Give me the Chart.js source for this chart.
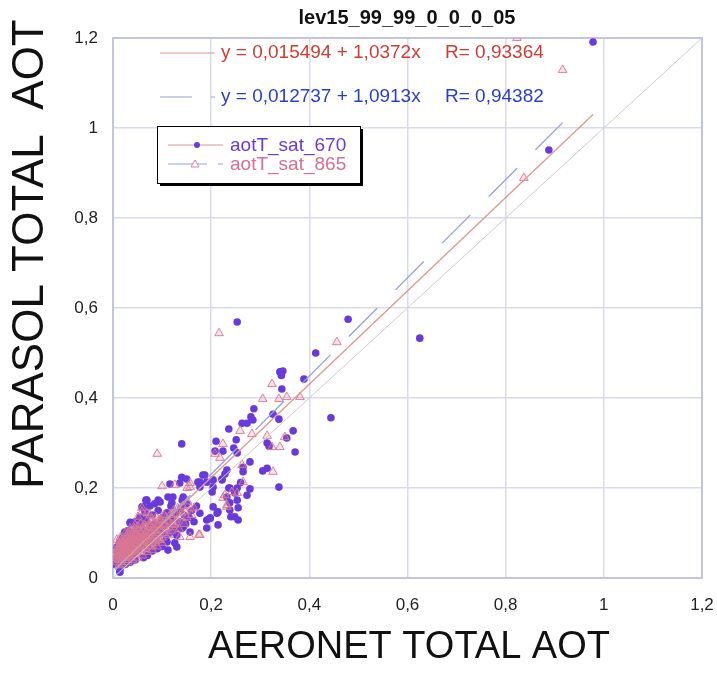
<!DOCTYPE html>
<html>
<head>
<meta charset="utf-8">
<script src="https://cdn.jsdelivr.net/npm/chart.js@4.4.1/dist/chart.umd.min.js"></script>
<style>
  body { margin: 0; background: #fff; }
  #wrap { width: 717px; height: 691px; position: relative; }
</style>
</head>
<body>
<div id="wrap"><canvas id="aotChart"></canvas></div>
<script>
// tick labels (comma decimals like the original)
const xTickLabels = ['0', '0,2', '0,4', '0,6', '0,8', '1', '1,2'];
const yTickLabels = ['0', '0,2', '0,4', '0,6', '0,8', '1', '1,2'];

const chartTitle = 'lev15_99_99_0_0_0_05';
const xTitle = 'AERONET TOTAL AOT';
const yTitle = 'PARASOL TOTAL  AOT';
const seriesNames = ['aotT_sat_670', 'aotT_sat_865'];
const fitLabels = ['y = 0,015494 + 1,0372x', 'y = 0,012737 + 1,0913x'];
const fitR = ['R= 0,93364', 'R= 0,94382'];

// regression lines and 1:1 line, endpoints
const fit670 = [[0.005, 0.021], [0.978, 1.03]];
const fit865 = [[0.005, 0.018], [0.916, 1.012]];
const oneToOne = [[0, 0], [1.2, 1.2]];

// aotT_sat_670 (purple dots)
const sat670 = [
  [0.978,1.191],[0.888,0.951],[0.625,0.533],[0.253,0.569],[0.479,0.575],[0.413,0.5],
  [0.34,0.458],[0.346,0.46],[0.343,0.45],[0.389,0.442],[0.344,0.42],[0.444,0.356],
  [0.287,0.376],[0.326,0.364],[0.338,0.353],[0.281,0.358],[0.285,0.351],[0.263,0.344],[0.273,0.344],[0.236,0.331],
  [0.367,0.327],[0.21,0.304],[0.251,0.307],[0.224,0.282],[0.208,0.282],[0.246,0.289],[0.253,0.278],
  [0.314,0.3],[0.318,0.293],[0.371,0.28],[0.14,0.298],[0.354,0.311],
  [0.279,0.258],[0.265,0.246],[0.265,0.236],[0.305,0.238],[0.314,0.244],
  [0.232,0.24],[0.228,0.231],[0.222,0.22],[0.222,0.218],[0.26,0.212],[0.279,0.198],[0.338,0.202],
  [0.187,0.229],[0.177,0.213],[0.204,0.218],[0.204,0.202],[0.202,0.191],[0.238,0.2],[0.248,0.189],
  [0.14,0.224],[0.15,0.22],[0.136,0.211],[0.116,0.209],[0.183,0.229],[0.173,0.213],[0.191,0.213],[0.177,0.202],
  [0.236,0.2],[0.253,0.2],[0.232,0.18],[0.273,0.184],[0.253,0.173],[0.238,0.167],[0.255,0.156],[0.248,0.136],[0.24,0.136],
  [0.198,0.133],[0.212,0.144],[0.214,0.118],
  [0.069,0.173],[0.096,0.169],[0.061,0.158],[0.122,0.18],[0.141,0.173],
  [0.059,0.158],[0.067,0.173],[0.092,0.173],[0.112,0.18],[0.12,0.167],[0.143,0.18],
  [0.204,0.158],[0.214,0.147],[0.198,0.133],[0.238,0.151],[0.255,0.129],[0.191,0.111],
  [0.106,0.129],[0.122,0.107],[0.143,0.113],[0.157,0.102],[0.177,0.144],[0.191,0.129],
  [0.035,0.124],[0.024,0.102],[0.014,0.08],[0.018,0.067],[0.008,0.069],[0.13,0.069],[0.126,0.078],[0.112,0.062],
  [0.035,0.122],[0.029,0.1],[0.018,0.073],[0.014,0.018],[0.014,0.013],
  [0.005,0.03],[0.008,0.045],[0.01,0.055],[0.012,0.038],[0.015,0.06],[0.018,0.05],[0.02,0.075],[0.022,0.04],
  [0.025,0.065],[0.028,0.085],[0.03,0.05],[0.032,0.07],[0.035,0.09],[0.038,0.06],[0.04,0.1],[0.042,0.078],
  [0.045,0.055],[0.048,0.11],[0.05,0.085],[0.052,0.065],[0.055,0.095],[0.058,0.12],[0.06,0.075],[0.062,0.105],
  [0.065,0.088],[0.068,0.13],[0.07,0.068],[0.072,0.098],[0.075,0.115],[0.078,0.08],[0.08,0.14],[0.082,0.1],
  [0.085,0.12],[0.088,0.09],[0.09,0.11],[0.092,0.15],[0.095,0.075],[0.098,0.125],[0.1,0.1],[0.102,0.135],
  [0.105,0.115],[0.108,0.085],[0.11,0.145],[0.112,0.12],[0.115,0.1],[0.118,0.16],[0.12,0.13],[0.125,0.11],
  [0.128,0.145],[0.13,0.095],[0.135,0.125],[0.138,0.155],[0.14,0.11],[0.145,0.14],[0.148,0.12],[0.15,0.165],
  [0.155,0.135],[0.16,0.15],[0.165,0.125],[0.17,0.16],[0.062,0.045],[0.07,0.05],[0.08,0.06],[0.09,0.065],
  [0.1,0.07],[0.11,0.08],[0.035,0.035],[0.045,0.04],[0.025,0.03],[0.015,0.025],[0.02,0.09],[0.012,0.075],
  [0.03,0.105],[0.045,0.125],[0.055,0.135],[0.065,0.148],[0.075,0.16],[0.085,0.165]
];

// aotT_sat_865 (pink triangles)
const sat865 = [
  [0.823,1.2],[0.916,1.129],[0.837,0.889],[0.216,0.544],[0.456,0.524],
  [0.324,0.431],[0.305,0.398],[0.338,0.398],[0.354,0.402],[0.381,0.402],
  [0.259,0.327],[0.283,0.32],[0.314,0.316],[0.35,0.313],[0.224,0.298],[0.208,0.276],[0.218,0.267],
  [0.34,0.291],[0.324,0.291],[0.326,0.236],[0.228,0.184],[0.242,0.191],[0.265,0.213],[0.263,0.251],
  [0.09,0.276],[0.1,0.204],[0.157,0.202],[0.232,0.162],[0.224,0.178],[0.175,0.096],
  [0.059,0.156],[0.075,0.14],[0.096,0.129],[0.122,0.113],[0.136,0.091],
  [0.157,0.211],[0.151,0.2],[0.126,0.207],[0.177,0.096],[0.157,0.091],
  [0.232,0.158],[0.253,0.189],[0.051,0.136],[0.069,0.144],[0.059,0.147],
  [0.005,0.04],[0.006,0.055],[0.008,0.035],[0.009,0.065],[0.01,0.048],[0.011,0.07],[0.012,0.058],[0.013,0.042],
  [0.014,0.062],[0.015,0.075],[0.016,0.05],[0.017,0.068],[0.018,0.04],[0.019,0.058],[0.02,0.08],[0.021,0.065],
  [0.022,0.052],[0.023,0.072],[0.024,0.045],[0.025,0.085],[0.026,0.06],[0.027,0.075],[0.028,0.05],[0.029,0.068],
  [0.03,0.09],[0.031,0.058],[0.032,0.08],[0.033,0.065],[0.034,0.048],[0.035,0.072],[0.036,0.095],[0.037,0.06],
  [0.038,0.082],[0.039,0.07],[0.04,0.055],[0.041,0.088],[0.042,0.065],[0.043,0.1],[0.044,0.075],[0.045,0.062],
  [0.046,0.085],[0.047,0.07],[0.048,0.095],[0.049,0.058],[0.05,0.078],[0.052,0.105],[0.053,0.068],[0.054,0.09],
  [0.055,0.075],[0.057,0.1],[0.058,0.062],[0.06,0.085],[0.061,0.11],[0.062,0.072],[0.064,0.095],[0.065,0.08],
  [0.067,0.115],[0.068,0.068],[0.07,0.09],[0.072,0.105],[0.073,0.078],[0.075,0.12],[0.077,0.088],[0.078,0.1],
  [0.08,0.072],[0.082,0.11],[0.084,0.092],[0.085,0.125],[0.087,0.082],[0.089,0.105],[0.09,0.095],[0.092,0.118],
  [0.094,0.085],[0.096,0.108],[0.098,0.13],[0.1,0.09],[0.103,0.12],[0.105,0.1],[0.108,0.135],[0.11,0.11],
  [0.113,0.095],[0.115,0.125],[0.118,0.105],[0.12,0.14],[0.125,0.118],[0.13,0.13],[0.135,0.108],[0.14,0.145],
  [0.145,0.12],[0.15,0.135],[0.16,0.14],[0.165,0.155],[0.03,0.035],[0.04,0.04],[0.05,0.045],[0.06,0.05],
  [0.07,0.058],[0.08,0.062],[0.09,0.07],[0.1,0.078],[0.012,0.028],[0.02,0.03],[0.008,0.085],[0.015,0.09],
  [0.025,0.1],[0.035,0.11],[0.045,0.118],
  [0.004,0.05],[0.006,0.045],[0.007,0.06],[0.009,0.052],[0.01,0.075],[0.011,0.04],[0.013,0.068],[0.014,0.05],
  [0.016,0.082],[0.017,0.058],[0.019,0.072],[0.02,0.045],[0.022,0.088],[0.023,0.062],[0.024,0.078],[0.026,0.052],
  [0.027,0.092],[0.028,0.07],[0.03,0.062],[0.031,0.1],[0.033,0.085],[0.034,0.072],[0.036,0.058],[0.037,0.105],
  [0.038,0.092],[0.04,0.078],[0.041,0.065],[0.043,0.088],[0.044,0.11],[0.046,0.072],[0.047,0.1],[0.049,0.085],
  [0.05,0.068],[0.051,0.115],[0.053,0.092],[0.055,0.082],[0.056,0.12],[0.058,0.098],[0.059,0.075],[0.061,0.092],
  [0.063,0.118],[0.065,0.1],[0.066,0.085],[0.069,0.125],[0.071,0.095],[0.073,0.112],[0.076,0.1],[0.079,0.13],
  [0.081,0.085],[0.083,0.118],[0.086,0.105],[0.088,0.135],[0.091,0.1],[0.093,0.128],[0.097,0.115],[0.101,0.105],
  [0.104,0.14],[0.107,0.118],[0.111,0.128],[0.116,0.14],[0.12,0.12],[0.124,0.15],[0.128,0.125],[0.132,0.155],
  [0.137,0.135],[0.142,0.16],[0.147,0.148],[0.152,0.17],[0.158,0.155],[0.016,0.035],[0.026,0.04],[0.036,0.045],
  [0.046,0.052],[0.056,0.058],[0.066,0.065],[0.076,0.07],[0.086,0.078],[0.096,0.085]
];

const toXY = arr => arr.map(p => ({x: p[0], y: p[1]}));

const FONT = '"Liberation Sans", Arial, sans-serif';
const purple = 'rgb(104,58,222)';
const pinkLine = 'rgba(214,120,148,0.9)';
const redFit = 'rgb(222,150,145)';
const blueFit = 'rgb(150,160,222)';

// titles, equations and the boxed legend drawn on top of the plot
const decor = {
  id: 'decor',
  beforeDatasetsDraw(chart) {
    const {ctx, chartArea: a} = chart;
    ctx.save();
    ctx.strokeStyle = 'rgb(195,195,232)';
    ctx.lineWidth = 2;
    ctx.strokeRect(a.left, a.top, a.right - a.left, a.bottom - a.top);
    ctx.restore();
  },
  afterDraw(chart) {
    const ctx = chart.ctx;
    ctx.save();
    ctx.textBaseline = 'middle';

    // main title
    ctx.fillStyle = '#111';
    ctx.textAlign = 'center';
    ctx.font = 'bold 20px ' + FONT;
    ctx.fillText(chartTitle, 407, 18);

    // axis titles
    ctx.font = '38px ' + FONT;
    ctx.fillText(xTitle, 409, 648);
    ctx.save();
    ctx.translate(31, 254);
    ctx.rotate(-Math.PI / 2);
    ctx.font = '44px ' + FONT;
    ctx.fillText(yTitle, 0, 0);
    ctx.restore();

    // regression equations
    ctx.textAlign = 'left';
    ctx.font = '19px ' + FONT;
    ctx.lineWidth = 1.2;
    ctx.strokeStyle = redFit;
    ctx.beginPath(); ctx.moveTo(160, 53); ctx.lineTo(215, 53); ctx.stroke();
    ctx.fillStyle = 'rgb(208,60,48)';
    ctx.fillText(fitLabels[0], 221, 53);
    ctx.fillText(fitR[0], 445, 53);

    ctx.strokeStyle = blueFit;
    ctx.setLineDash([32, 19]);
    ctx.beginPath(); ctx.moveTo(160, 97); ctx.lineTo(215, 97); ctx.stroke();
    ctx.setLineDash([]);
    ctx.fillStyle = 'rgb(40,62,205)';
    ctx.fillText(fitLabels[1], 221, 97);
    ctx.fillText(fitR[1], 445, 97);

    // legend box with shadow
    ctx.fillStyle = '#000';
    ctx.fillRect(160, 129, 203, 57);
    ctx.fillStyle = '#fff';
    ctx.fillRect(157, 126, 203, 57);
    ctx.strokeStyle = '#000';
    ctx.lineWidth = 1;
    ctx.strokeRect(157.5, 126.5, 203, 57);

    ctx.lineWidth = 1;
    ctx.strokeStyle = redFit;
    ctx.beginPath(); ctx.moveTo(168, 145); ctx.lineTo(223, 145); ctx.stroke();
    ctx.fillStyle = purple;
    ctx.beginPath(); ctx.arc(197, 145, 3, 0, Math.PI * 2); ctx.fill();
    ctx.fillText(seriesNames[0], 230, 146);

    ctx.strokeStyle = blueFit;
    ctx.beginPath(); ctx.moveTo(168, 164); ctx.lineTo(207, 164); ctx.stroke();
    ctx.beginPath(); ctx.moveTo(218, 164); ctx.lineTo(223, 164); ctx.stroke();
    ctx.strokeStyle = pinkLine;
    ctx.fillStyle = '#fff';
    ctx.beginPath();
    ctx.moveTo(195, 160); ctx.lineTo(199, 167); ctx.lineTo(191, 167); ctx.closePath();
    ctx.fill(); ctx.stroke();
    ctx.fillStyle = 'rgb(214,112,142)';
    ctx.fillText(seriesNames[1], 230, 165);

    ctx.restore();
  }
};

const ctx = document.getElementById('aotChart').getContext('2d');
const chart = new Chart(ctx, {
  type: 'scatter',
  data: {
    datasets: [
      {
        label: seriesNames[0],
        data: toXY(sat670),
        pointStyle: 'circle',
        pointRadius: 3.8,
        pointBorderWidth: 0,
        backgroundColor: purple,
        borderColor: purple,
        order: 3
      },
      {
        label: seriesNames[1],
        data: toXY(sat865),
        pointStyle: 'triangle',
        pointRadius: 5,
        pointBorderWidth: 1,
        backgroundColor: 'rgba(228,120,150,0.22)',
        borderColor: pinkLine,
        order: 2
      },
      {
        type: 'line',
        data: toXY(oneToOne),
        borderColor: 'rgb(205,205,205)',
        borderWidth: 1,
        pointRadius: 0,
        fill: false,
        order: 1
      },
      {
        type: 'line',
        data: toXY(fit670),
        borderColor: redFit,
        borderWidth: 1.3,
        pointRadius: 0,
        fill: false,
        order: 0
      },
      {
        type: 'line',
        data: toXY(fit865),
        borderColor: blueFit,
        borderWidth: 1.3,
        borderDash: [40, 26],
        pointRadius: 0,
        fill: false,
        order: 0
      }
    ]
  },
  options: {
    responsive: true,
    maintainAspectRatio: false,
    animation: false,
    layout: { padding: { top: 38, right: 15, left: 0, bottom: 0 } },
    scales: {
      x: {
        type: 'linear',
        min: 0, max: 1.2,
        afterFit(scale) {
          scale.height = 113;
          scale.paddingLeft = 0;
          scale.paddingRight = 0;
        },
        border: { color: 'rgb(195,195,232)', width: 2 },
        grid: { color: 'rgb(218,218,238)', lineWidth: 1.5, drawTicks: false },
        ticks: {
          stepSize: 0.2,
          padding: 17,
          color: '#222',
          font: { family: FONT, size: 17 },
          callback: (v, i) => xTickLabels[i]
        }
      },
      y: {
        type: 'linear',
        min: 0, max: 1.2,
        afterFit(scale) {
          scale.width = 113;
          scale.paddingTop = 0;
          scale.paddingBottom = 0;
        },
        border: { color: 'rgb(195,195,232)', width: 2 },
        grid: { color: 'rgb(218,218,238)', lineWidth: 1.5, drawTicks: false },
        ticks: {
          stepSize: 0.2,
          padding: 15,
          color: '#222',
          font: { family: FONT, size: 17 },
          callback: (v, i) => yTickLabels[i]
        }
      }
    },
    plugins: {
      legend: { display: false },
      tooltip: { enabled: false },
      title: { display: false }
    }
  },
  plugins: [decor]
});
</script>
</body>
</html>
